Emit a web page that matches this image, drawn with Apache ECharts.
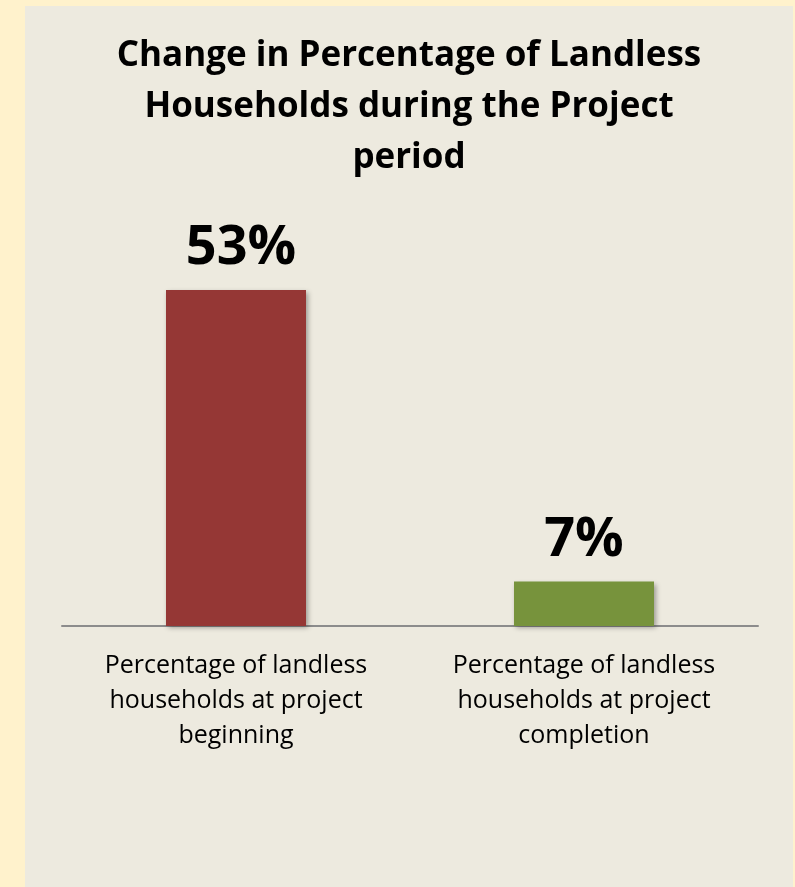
<!DOCTYPE html>
<html>
<head>
<meta charset="utf-8">
<script src="https://cdn.jsdelivr.net/npm/echarts@6/dist/echarts.min.js"></script>
<style>
  html, body { margin: 0; padding: 0; background: #FFF2CC; }
  #chart { width: 795px; height: 887px; }
</style>
</head>
<body>
<div id="chart"></div>
<script>
// Share of landless households, before and after the project
const categories = [
  'Percentage of landless\nhouseholds at project\nbeginning',
  'Percentage of landless\nhouseholds at project\ncompletion'
];
const values = [53, 7];
const barColors = ['#953735', '#77933C'];
const titleText = 'Change in Percentage of Landless\nHouseholds during the Project\nperiod';

const chart = echarts.init(document.getElementById('chart'), null, { renderer: 'canvas' });

chart.setOption({
  backgroundColor: '#FFF2CC',
  animation: false,
  graphic: [
    {
      type: 'rect',
      z: -100,
      silent: true,
      shape: { x: 25, y: 6, width: 768, height: 881 },
      style: { fill: '#EDEADF' }
    },
    {
      type: 'text',
      z: 10,
      x: 409,
      y: 31,
      style: {
        text: titleText,
        textAlign: 'center',
        textVerticalAlign: 'top',
        fontFamily: '"Open Sans", sans-serif',
        fontWeight: 'bold',
        fontSize: 35,
        lineHeight: 51,
        fill: '#000'
      }
    }
  ],
  grid: { left: 62, right: 37, top: 245.6, bottom: 261, containLabel: false },
  xAxis: {
    type: 'category',
    data: categories,
    axisLine: { show: true, lineStyle: { color: '#8C8C8C', width: 2 } },
    axisTick: { show: false },
    axisLabel: {
      interval: 0,
      margin: 22,
      color: '#000',
      fontFamily: '"Open Sans", sans-serif',
      fontSize: 25,
      lineHeight: 35,
      align: 'center'
    },
    splitLine: { show: false }
  },
  yAxis: {
    type: 'value',
    min: 0,
    max: 60,
    show: false
  },
  series: [{
    type: 'bar',
    data: values.map((v, i) => ({
      value: v,
      itemStyle: { color: barColors[i] },
      label: { offset: [i === 0 ? 5 : 0, 0] }
    })),
    barWidth: 140,
    itemStyle: {
      shadowColor: 'rgba(0,0,0,0.35)',
      shadowBlur: 5,
      shadowOffsetX: 2,
      shadowOffsetY: 2
    },
    label: {
      show: true,
      position: 'top',
      distance: 14,
      formatter: '{c}%',
      color: '#000',
      fontFamily: '"Open Sans", sans-serif',
      fontWeight: 'bold',
      fontSize: 54
    }
  }]
});
</script>
</body>
</html>
